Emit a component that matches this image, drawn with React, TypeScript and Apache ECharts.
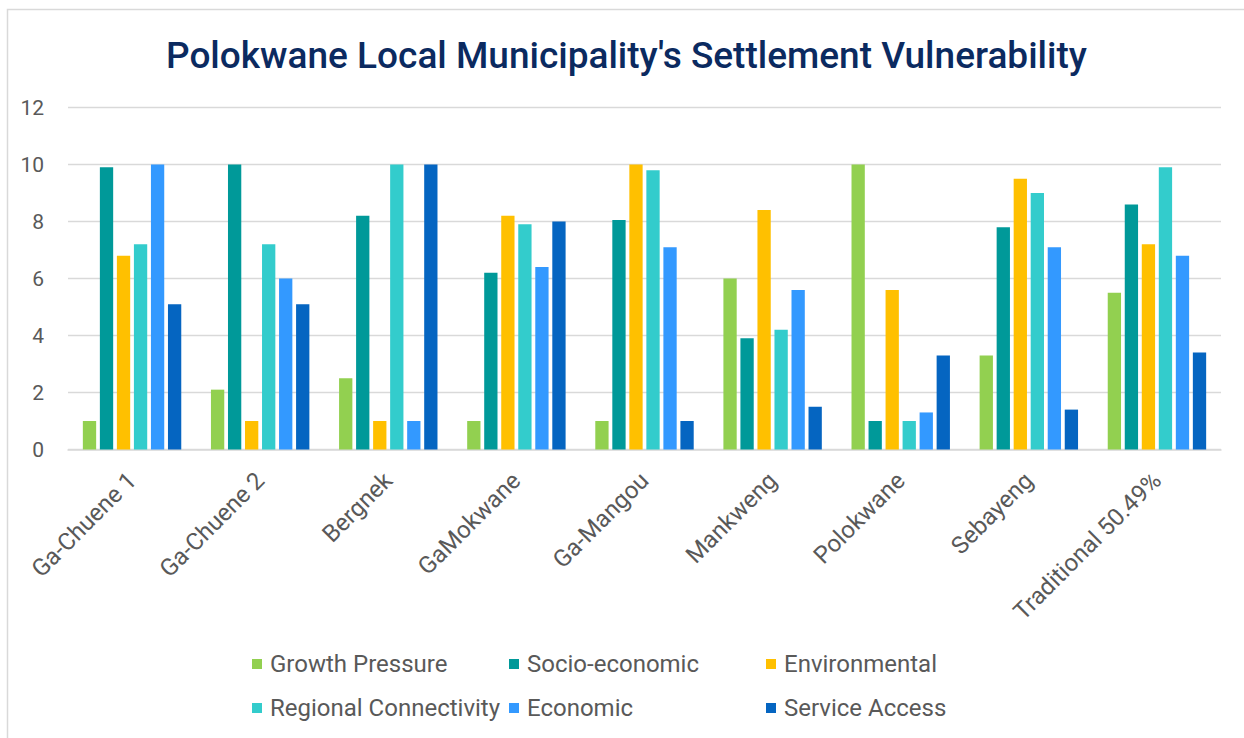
import React, { useEffect, useRef } from "react";
import * as echarts from "echarts";

const categories = [
  "Ga-Chuene 1",
  "Ga-Chuene 2",
  "Bergnek",
  "GaMokwane",
  "Ga-Mangou",
  "Mankweng",
  "Polokwane",
  "Sebayeng",
  "Traditional 50.49%",
];
const seriesNames = [
  "Growth Pressure",
  "Socio-economic",
  "Environmental",
  "Regional Connectivity",
  "Economic",
  "Service Access",
];
const growthPressure = [1, 2.1, 2.5, 1, 1, 6, 10, 3.3, 5.5];
const socioEconomic = [9.9, 10, 8.2, 6.2, 8.05, 3.9, 1, 7.8, 8.6];
const environmental = [6.8, 1, 1, 8.2, 10, 8.4, 5.6, 9.5, 7.2];
const regionalConnectivity = [7.2, 7.2, 10, 7.9, 9.8, 4.2, 1, 9, 9.9];
const economic = [10, 6, 1, 6.4, 7.1, 5.6, 1.3, 7.1, 6.8];
const serviceAccess = [5.1, 5.1, 10, 8, 1, 1.5, 3.3, 1.4, 3.4];
const colors = ["#92D050", "#009999", "#FFC000", "#33CCCC", "#3399FF", "#0565C1"];

const FONT = "Roboto, 'Noto Sans', sans-serif";

export default function App() {
  const ref = useRef<HTMLDivElement>(null);
  useEffect(() => {
    if (!ref.current) return;
    const chart = echarts.init(ref.current, null, { renderer: "svg" });
    const values = [growthPressure, socioEconomic, environmental, regionalConnectivity, economic, serviceAccess];
    const legendPos = [
      [252, 651],
      [509, 651],
      [766, 651],
      [252, 695],
      [509, 695],
      [766, 695],
    ];
    chart.setOption({
      animation: false,
      textStyle: { fontFamily: FONT },
      title: {
        text: "Polokwane Local Municipality's Settlement Vulnerability",
        left: 161,
        top: 32,
        textStyle: { fontFamily: FONT, fontSize: 37, fontWeight: 500, color: "#0B2A60" },
      },
      graphic: [
        {
          type: "rect",
          shape: { x: 7.5, y: 9.5, width: 1400, height: 900 },
          style: { fill: "none", stroke: "#D9D9D9", lineWidth: 1.5 },
          silent: true,
        },
      ],
      legend: seriesNames.map((n, i) => ({
        data: [n],
        left: legendPos[i][0],
        top: legendPos[i][1],
        icon: "rect",
        itemWidth: 10,
        itemHeight: 10,
        padding: 0,
        textStyle: { fontFamily: FONT, fontSize: 24, color: "#595959", lineHeight: 26, padding: [0, 0, 0, 3] },
      })),
      grid: { left: 68, right: 23, top: 107.5, bottom: 288.5, containLabel: false },
      xAxis: {
        type: "category",
        data: categories,
        axisTick: { show: false },
        axisLine: { lineStyle: { color: "#D9D9D9", width: 1.5 } },
        axisLabel: {
          rotate: 45,
          margin: 27,
          fontSize: 24,
          color: "#595959",
          fontFamily: FONT,
          interval: 0,
        },
      },
      yAxis: {
        type: "value",
        min: 0,
        max: 12,
        interval: 2,
        axisLine: { show: false },
        axisTick: { show: false },
        splitLine: { lineStyle: { color: "#D9D9D9", width: 1.3 } },
        axisLabel: { fontSize: 21, color: "#595959", margin: 24, fontFamily: FONT },
      },
      series: seriesNames.map((n, i) => ({
        name: n,
        type: "bar",
        data: values[i],
        barWidth: 13.3,
        barGap: "28%",
        itemStyle: { color: colors[i] },
      })),
    });
    return () => chart.dispose();
  }, []);
  return (
    <div
      ref={ref}
      style={{ position: "fixed", left: 0, top: 0, width: 1244, height: 738, background: "#fff" }}
    />
  );
}
